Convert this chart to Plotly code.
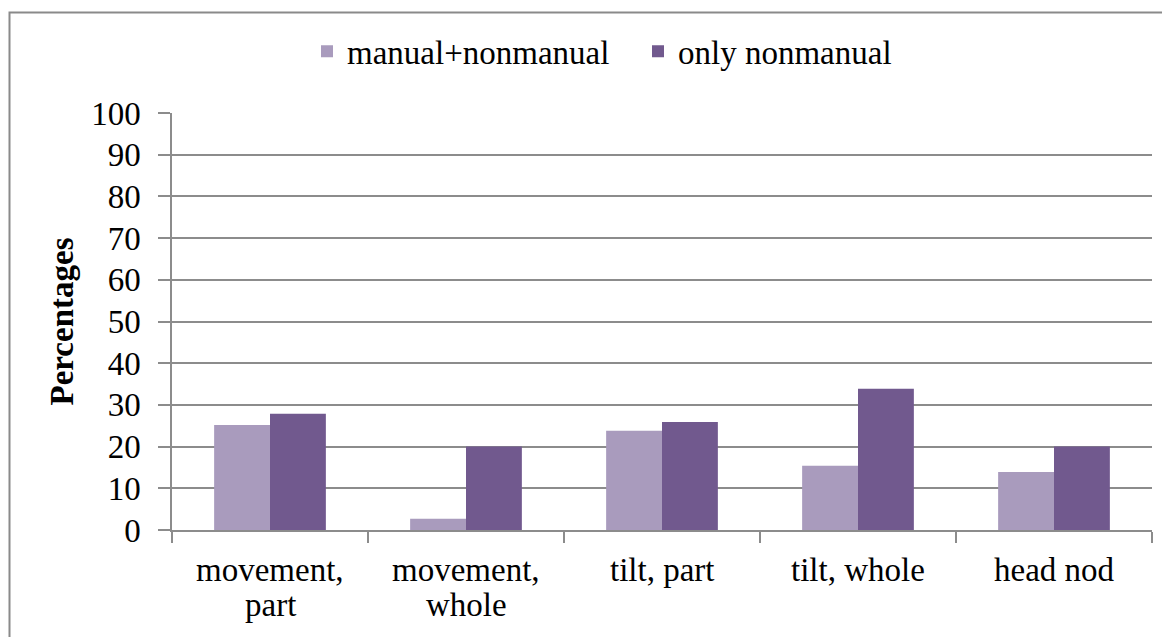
import plotly.graph_objects as go

categories = ["movement, part", "movement, whole", "tilt, part", "tilt, whole", "head nod"]
label_lines = [["movement,", "part"], ["movement,", "whole"], ["tilt, part"], ["tilt, whole"], ["head nod"]]
series_names = ["manual+nonmanual", "only nonmanual"]
manual_nonmanual = [25.2, 2.7, 23.8, 15.4, 13.9]
only_nonmanual = [27.9, 20.0, 25.9, 33.9, 20.0]
y_ticks = [0, 10, 20, 30, 40, 50, 60, 70, 80, 90, 100]
y_title = "Percentages"

colors = ["#A99BBD", "#71598E"]
FONT = "Liberation Serif"
FS = 33
GRID = "#8C8C8C"

fig = go.Figure()
for name, vals, c in zip(series_names, [manual_nonmanual, only_nonmanual], colors):
    fig.add_trace(go.Bar(x=categories, y=vals, name=name, marker=dict(color=c, line=dict(width=0))))

annotations = []
for cat, lines in zip(categories, label_lines):
    for i, line in enumerate(lines):
        annotations.append(dict(
            x=cat, xref="x", y=0, yref="y", text=line, showarrow=False,
            yanchor="top", yshift=-20 - i * 35, font=dict(family=FONT, size=FS, color="#000000"),
        ))

fig.update_layout(
    width=1170, height=637,
    margin=dict(l=164, r=26, t=105, b=115, autoexpand=False),
    paper_bgcolor="white", plot_bgcolor="white",
    barmode="group", bargap=0.43, bargroupgap=0,
    font=dict(family=FONT, size=FS, color="#000000"),
    showlegend=True,
    legend=dict(orientation="h", x=(307 - 172) / 980, xanchor="left", y=1.148, yanchor="middle",
                bgcolor="rgba(0,0,0,0)",
                font=dict(family=FONT, size=FS), itemwidth=30, entrywidth=286, traceorder="normal"),
    annotations=annotations,
    shapes=[dict(type="rect", xref="paper", yref="paper",
                 x0=(9.5 - 172) / 980, x1=(1185 - 172) / 980,
                 y0=(530 - 660) / 417, y1=(530 - 12.5) / 417,
                 line=dict(color="#8A8A8A", width=2), fillcolor="rgba(0,0,0,0)", layer="below")],
)
fig.update_xaxes(showline=True, linecolor=GRID, linewidth=1.5, ticks="outside", tickson="boundaries",
                 ticklen=11, tickcolor=GRID, tickwidth=1.5, showticklabels=False, showgrid=False)
fig.update_yaxes(range=[0, 100], tickvals=y_ticks, showline=True, linecolor=GRID, linewidth=1.5,
                 ticks="outside", ticklen=12, tickcolor=GRID, tickwidth=1.5,
                 showgrid=True, gridcolor=GRID, gridwidth=1.5, zeroline=False,
                 ticklabelstandoff=11,
                 title=dict(text="<b>" + y_title + "</b>", standoff=8, font=dict(family=FONT, size=FS)))

fig.write_html("out.html")
